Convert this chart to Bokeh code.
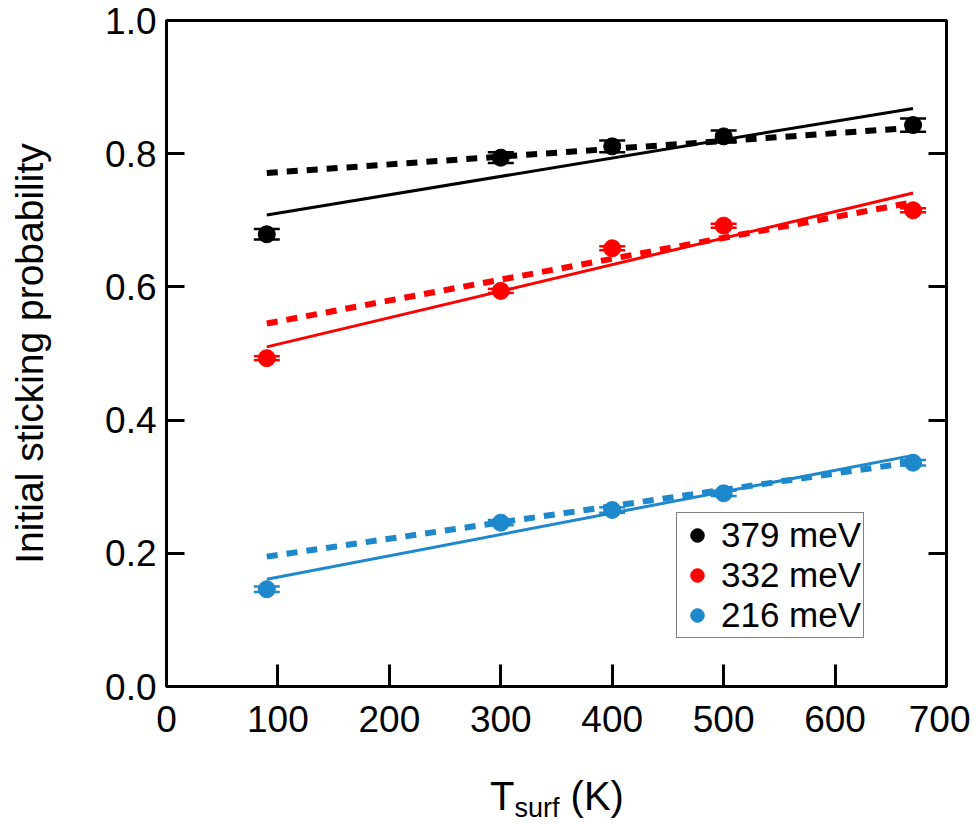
from bokeh.plotting import figure
from bokeh.layouts import column
from bokeh.models import (ColumnDataSource, Whisker, TeeHead, FixedTicker, PrintfTickFormatter,
                          LinearAxis, Legend, LegendItem, Div, CustomJSTickFormatter, Range1d)
from bokeh.embed import file_html
from bokeh.resources import INLINE

# ---- data ----
temps = [90, 300, 400, 500, 670]
s_379 = [0.679, 0.794, 0.811, 0.826, 0.843]
e_379 = [0.008, 0.008, 0.009, 0.009, 0.010]
s_332 = [0.493, 0.594, 0.658, 0.692, 0.715]
e_332 = [0.003, 0.003, 0.003, 0.003, 0.003]
s_216 = [0.146, 0.246, 0.265, 0.290, 0.336]
e_216 = [0.004, 0.004, 0.004, 0.004, 0.004]

fit_t = [90, 670]
fit_solid_379 = [0.708, 0.868]
fit_dash_379 = [0.771, 0.839]
fit_solid_332 = [0.510, 0.741]
fit_dash_332 = [0.545, 0.727]
fit_solid_216 = [0.161, 0.347]
fit_dash_216 = [0.195, 0.337]

labels = ["379 meV", "332 meV", "216 meV"]
colors = ["#000000", "#ff0000", "#1e88cc"]

x_ticks = [0, 100, 200, 300, 400, 500, 600, 700]
y_ticks = [0.0, 0.2, 0.4, 0.6, 0.8, 1.0]

FONT = "Liberation Sans"

p = figure(frame_width=780, frame_height=666, min_border_left=166, min_border_right=24,
           min_border_top=20, min_border_bottom=68,
           x_range=Range1d(0, 700), y_range=Range1d(0, 1.0),
           output_backend="svg", toolbar_location=None)
p.xgrid.visible = False
p.ygrid.visible = False
p.outline_line_color = "black"
p.outline_line_width = 3
p.background_fill_color = "white"
p.border_fill_color = "white"

xa = p.xaxis[0]
xa.ticker = FixedTicker(ticks=x_ticks)
xa.major_tick_in = 22
xa.major_tick_out = 0
xa.minor_tick_line_color = None
xa.major_tick_line_width = 3
xa.axis_line_width = 3
xa.major_label_text_font = FONT
xa.major_label_text_font_size = "37px"
xa.major_label_text_color = "black"
xa.major_label_standoff = 19

ya = p.yaxis[0]
ya.ticker = FixedTicker(ticks=y_ticks)
ya.formatter = PrintfTickFormatter(format="%.1f")
ya.major_tick_in = 18
ya.major_tick_out = 0
ya.minor_tick_line_color = None
ya.major_tick_line_width = 3
ya.axis_line_width = 3
ya.major_label_text_font = FONT
ya.major_label_text_font_size = "37px"
ya.major_label_text_color = "black"
ya.major_label_standoff = 10
ya.axis_label = "Initial sticking probability"
ya.axis_label_text_font = FONT
ya.axis_label_text_font_style = "normal"
ya.axis_label_text_font_size = "39px"
ya.axis_label_text_color = "black"
ya.axis_label_standoff = 51

ra = LinearAxis(ticker=FixedTicker(ticks=y_ticks),
                formatter=CustomJSTickFormatter(code="return ''"))
ra.major_tick_in = 18
ra.major_tick_out = 0
ra.minor_tick_line_color = None
ra.major_tick_line_width = 3
ra.axis_line_width = 3
ra.major_label_standoff = 0
p.add_layout(ra, "right")

series = [
    (s_379, e_379, fit_solid_379, fit_dash_379),
    (s_332, e_332, fit_solid_332, fit_dash_332),
    (s_216, e_216, fit_solid_216, fit_dash_216),
]

items = []
for (vals, errs, fs, fd), lab, col in zip(series, labels, colors):
    p.line(fit_t, fs, line_color=col, line_width=3)
    p.line(fit_t, fd, line_color=col, line_width=6, line_dash="11 9")
    src = ColumnDataSource(dict(x=temps, y=vals,
                                lo=[v - e for v, e in zip(vals, errs)],
                                hi=[v + e for v, e in zip(vals, errs)]))
    w = Whisker(base="x", upper="hi", lower="lo", source=src,
                line_color=col, line_width=2,
                upper_head=TeeHead(size=26, line_color=col, line_width=2.5),
                lower_head=TeeHead(size=26, line_color=col, line_width=2.5))
    p.add_layout(w)
    r = p.scatter("x", "y", source=src, size=17, fill_color=col, line_color=col, marker="circle")
    items.append(LegendItem(label=lab, renderers=[r]))

legend = Legend(items=items, location=(510, 48), orientation="vertical")
legend.label_text_font = FONT
legend.label_text_font_size = "35px"
legend.label_text_color = "black"
legend.border_line_color = "black"
legend.border_line_width = 1.5
legend.background_fill_alpha = 1.0
legend.glyph_width = 36
legend.glyph_height = 34
legend.label_height = 34
legend.label_standoff = 6
legend.spacing = 0
legend.padding = 2
legend.margin = 0
p.add_layout(legend, "center")

xlabel = Div(
    text=("<div style=\"padding-left:490px; padding-top:22px; font-family:'Liberation Sans'; "
          "font-size:40px; line-height:40px; color:black; white-space:nowrap;\">"
          "T<sub style=\"font-size:27px; vertical-align:-7px; line-height:0;\">surf</sub> (K)</div>"),
    width=970, height=70, margin=0)

layout = column(p, xlabel, spacing=0)
open("out.html", "w").write(file_html(layout, INLINE))
